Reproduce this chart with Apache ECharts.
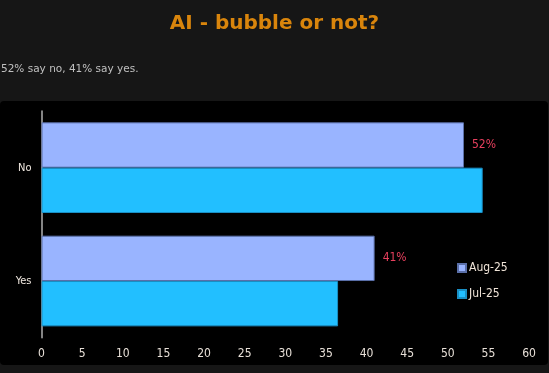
<!DOCTYPE html>
<html>
<head>
<meta charset="utf-8">
<script src="https://cdn.jsdelivr.net/npm/echarts@6/dist/echarts.min.js"></script>
<style>
html,body{margin:0;padding:0;background:#161616;}
#c{width:549px;height:373px;}
</style>
</head>
<body>
<div id="c"></div>
<script>
const categories = ['No', 'Yes'];
const seriesNames = ['Aug-25', 'Jul-25'];
const aug25 = [52, 41];
const jul25 = [54.3, 36.5];
const xTicks = [0, 60, 5];

const chart = echarts.init(document.getElementById('c'));
const labelFont = "'DejaVu Sans Condensed', 'DejaVu Sans', sans-serif";
chart.setOption({
  backgroundColor: '#161616',
  animation: false,
  title: [{
    text: 'AI - bubble or not?',
    left: 'center', top: 9,
    textStyle: { color: '#d9850c', fontSize: 20, fontWeight: 'bold', fontFamily: 'DejaVu Sans' }
  }, {
    text: '52% say no, 41% say yes.',
    left: 1, top: 64, padding: 0,
    textStyle: { color: '#c0c0c0', fontSize: 10.5, fontWeight: 'normal', fontFamily: 'DejaVu Sans' }
  }],
  graphic: [{
    type: 'rect', z: 0, silent: true,
    shape: { x: 0, y: 101, width: 548, height: 264, r: 4 },
    style: { fill: '#000000' }
  }],
  legend: {
    data: seriesNames,
    orient: 'vertical',
    left: 452, top: 257,
    itemWidth: 8, itemHeight: 8, itemGap: 14,
    icon: 'rect',
    textStyle: { color: '#f0e4d8', fontSize: 12, fontFamily: labelFont, padding: [0,0,0,-2] }
  },
  grid: { left: 41.5, right: 20, top: 111, bottom: 35.3, containLabel: false },
  xAxis: {
    type: 'value', min: xTicks[0], max: xTicks[1], interval: xTicks[2],
    axisLine: { show: false }, axisTick: { show: false }, splitLine: { show: false },
    axisLabel: { color: '#e8e0d8', fontSize: 12, fontFamily: labelFont, margin: 10 }
  },
  yAxis: {
    type: 'category', data: categories, inverse: true,
    axisLine: { show: true, lineStyle: { color: '#b0b0b0', width: 1.5 } },
    axisTick: { show: false },
    axisLabel: { color: '#f0e8e0', fontSize: 11, fontFamily: labelFont, margin: 10 }
  },
  series: [{
    name: seriesNames[0], type: 'bar', data: aug25,
    barGap: 0, barCategoryGap: '20%',
    itemStyle: { color: '#99b4ff', borderColor: '#5a6fa8', borderWidth: 1 },
    label: { show: true, position: 'right', distance: 8, formatter: '{c}%', color: '#e8405e', fontSize: 12, fontFamily: labelFont }
  }, {
    name: seriesNames[1], type: 'bar', data: jul25,
    barGap: 0, barCategoryGap: '20%',
    itemStyle: { color: '#22bfff', borderColor: '#1a8fc4', borderWidth: 1 }
  }]
});
</script>
</body>
</html>
